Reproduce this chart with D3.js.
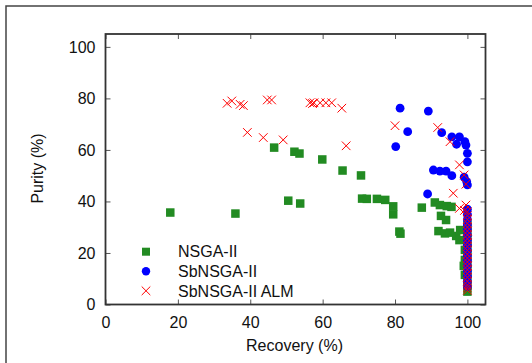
<!DOCTYPE html>
<html>
<head>
<meta charset="utf-8">
<script src="https://cdn.jsdelivr.net/npm/d3@7/dist/d3.min.js"></script>
<style>
  html, body { margin: 0; padding: 0; background: #fff; }
  svg { display: block; font-family: "Liberation Sans", Arial, sans-serif; }
</style>
</head>
<body>
<svg id="chart" width="532" height="363"></svg>
<script>
// ---------- data ----------
const seriesNames = ["NSGA-II", "SbNSGA-II", "SbNSGA-II ALM"];
const xTicks = [0, 20, 40, 60, 80, 100];
const yTicks = [0, 20, 40, 60, 80, 100];

const nsgaX = [17.9, 35.9, 46.6, 50.5, 52.2, 53.6, 53.8, 59.9, 65.5, 70.6, 70.9, 72.2, 75.0, 77.3, 79.5, 79.5, 81.2, 81.5,
  87.4, 91.0, 92.4, 94.3, 95.6, 92.7, 94.1, 92.0, 93.8, 95.2, 96.9, 97.8, 98.0, 99.3, 99.3, 99.3, 99.0,
  100, 100, 100, 100, 100, 100, 100, 100, 100, 100];
const nsgaY = [35.7, 35.3, 60.9, 40.3, 59.3, 58.6, 39.2, 56.3, 52.0, 50.1, 41.1, 41.0, 41.0, 40.6, 38.1, 35.0, 28.3, 27.5,
  37.6, 39.6, 38.6, 38.2, 37.9, 34.4, 32.8, 28.5, 27.6, 27.9, 26.6, 25.0, 28.9, 21.2, 17.3, 11.5, 15.0,
  5.0, 7.5, 10.0, 13.0, 16.0, 19.0, 22.0, 25.0, 28.0, 31.0];

const sbX = [81.4, 89.2, 83.5, 80.2, 92.9, 95.7, 97.8, 97.0, 99.3, 99.6, 100, 100, 90.6, 92.4, 94.1, 95.7, 99.1, 99.8, 100, 89.0,
  100, 100, 100, 100, 100, 100, 100, 100, 100, 100, 100, 100, 100, 100, 100, 100];
const sbY = [76.2, 75.1, 67.1, 61.3, 66.7, 65.1, 65.1, 62.2, 63.2, 61.9, 58.7, 55.4, 52.2, 51.8, 51.8, 50.0, 49.4, 47.7, 46.4, 42.9,
  37.0, 35.0, 33.0, 31.0, 29.0, 27.0, 25.0, 23.0, 21.0, 19.0, 17.0, 15.0, 13.0, 11.0, 9.0, 7.0];

const almX = [33.6, 34.9, 37.2, 38.1, 39.2, 43.6, 44.7, 45.9, 49.1, 56.5, 57.2, 57.6, 59.3, 60.9, 62.5, 65.3, 66.5,
  80.0, 91.8, 95.2, 97.8, 99.1, 99.6, 96.1, 97.8, 99.6, 99.2,
  100, 100, 100, 100, 100, 100, 100, 100, 100, 100, 100, 100, 100, 100, 100, 100, 100, 100, 100, 100, 100, 100];
const almY = [78.1, 79.0, 77.7, 77.2, 66.8, 64.8, 79.4, 79.4, 63.9, 78.3, 78.0, 78.3, 78.3, 78.3, 78.3, 76.2, 61.6,
  69.4, 68.7, 63.2, 54.2, 50.3, 46.7, 43.2, 37.3, 38.6, 36.5,
  36.0, 34.5, 33.0, 31.5, 30.0, 28.5, 27.0, 25.5, 24.0, 22.5, 21.0, 19.5, 18.0, 16.5, 15.0, 13.5, 12.0, 10.5, 9.0, 7.5, 6.5, 5.5];

// ---------- layout ----------
const svg = d3.select("#chart");
const L = 105.5, R = 485.5, T = 34, B = 304.5;
const x = d3.scaleLinear().domain([0, 105]).range([L, R]);
const y = d3.scaleLinear().domain([0, 105]).range([B, T]);

const cGreen = "#228b22", cBlue = "#0000ff", cRed = "#ff0000";
const frameColor = "#333";

// outer border
svg.append("rect").attr("x", 6).attr("y", 6).attr("width", 560).attr("height", 400)
  .attr("fill", "none").attr("stroke", "#444").attr("stroke-width", 1.5);

// clip
svg.append("defs").append("clipPath").attr("id", "clip")
  .append("rect").attr("x", L).attr("y", T).attr("width", R - L).attr("height", B - T);

// axes
function styleAxis(g, hideText) {
  g.select(".domain").remove();
  g.selectAll(".tick line").attr("stroke", "#555").attr("stroke-width", 1);
  g.selectAll(".tick text").attr("font-size", 16).attr("fill", "#111")
    .attr("font-family", "'Liberation Sans', Arial, sans-serif");
  if (hideText) g.selectAll(".tick text").remove();
}
svg.append("g").attr("transform", `translate(0,${B})`)
  .call(d3.axisBottom(x).tickValues(xTicks).tickSize(-5).tickPadding(12).tickFormat(d3.format("d")))
  .call(g => styleAxis(g, false));
svg.append("g").attr("transform", `translate(0,${T})`)
  .call(d3.axisTop(x).tickValues(xTicks).tickSize(-5))
  .call(g => styleAxis(g, true));
svg.append("g").attr("transform", `translate(${L},0)`)
  .call(d3.axisLeft(y).tickValues(yTicks).tickSize(-5).tickPadding(10).tickFormat(d3.format("d")))
  .call(g => styleAxis(g, false));
svg.append("g").attr("transform", `translate(${R},0)`)
  .call(d3.axisRight(y).tickValues(yTicks).tickSize(-5))
  .call(g => styleAxis(g, true));

// axis titles
svg.append("text").attr("x", (L + R) / 2 - 1).attr("y", 350.5).attr("text-anchor", "middle")
  .attr("font-size", 16).attr("fill", "#111").text("Recovery (%)");
svg.append("text").attr("transform", "translate(43,168.5) rotate(-90)").attr("text-anchor", "middle")
  .attr("font-size", 16).attr("fill", "#111").text("Purity (%)");

// plot points
const plot = svg.append("g").attr("clip-path", "url(#clip)");
const sq = 8.5, cr = 4.4, xs = 4.3;

plot.append("g").selectAll("rect").data(d3.range(nsgaX.length)).join("rect")
  .attr("x", i => x(nsgaX[i]) - sq / 2).attr("y", i => y(nsgaY[i]) - sq / 2)
  .attr("width", sq).attr("height", sq).attr("fill", cGreen);

plot.append("g").selectAll("circle").data(d3.range(sbX.length)).join("circle")
  .attr("cx", i => x(sbX[i])).attr("cy", i => y(sbY[i])).attr("r", cr).attr("fill", cBlue);

function crossPath(cx, cy, s) {
  return `M${cx - s},${cy - s}L${cx + s},${cy + s}M${cx - s},${cy + s}L${cx + s},${cy - s}`;
}
plot.append("g").selectAll("path").data(d3.range(almX.length)).join("path")
  .attr("d", i => crossPath(x(almX[i]), y(almY[i]), xs))
  .attr("fill", "none").attr("stroke", cRed).attr("stroke-width", 1);

// frame
svg.append("rect").attr("x", L).attr("y", T).attr("width", R - L).attr("height", B - T)
  .attr("fill", "none").attr("stroke", frameColor).attr("stroke-width", 1.8);

// legend
const legY = [251.7, 271.3, 290.8];
const legMX = 146, legTX = 178;
const leg = svg.append("g");
leg.append("rect").attr("x", legMX - 4).attr("y", legY[0] - 4).attr("width", 8).attr("height", 8).attr("fill", cGreen);
leg.append("circle").attr("cx", legMX).attr("cy", legY[1]).attr("r", 4.2).attr("fill", cBlue);
leg.append("path").attr("d", crossPath(legMX, legY[2], 4.3)).attr("stroke", cRed).attr("stroke-width", 1).attr("fill", "none");
seriesNames.forEach((n, i) => {
  leg.append("text").attr("x", legTX).attr("y", legY[i] + 5.7).attr("font-size", 16).attr("fill", "#111").text(n);
});
</script>
</body>
</html>
